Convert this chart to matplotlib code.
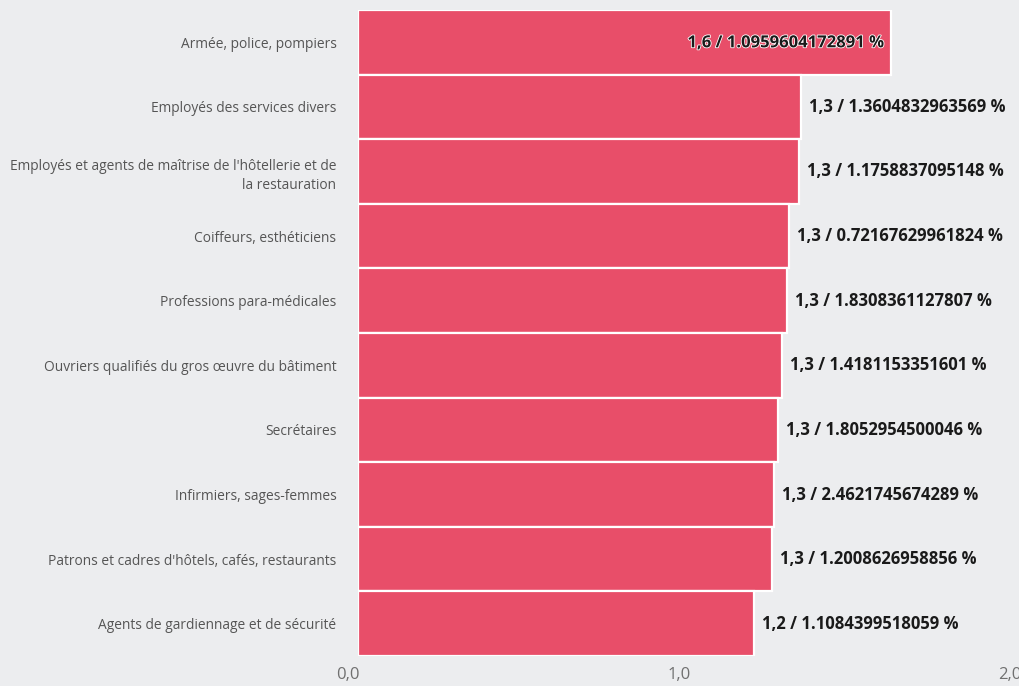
import matplotlib
matplotlib.use("Agg")
import matplotlib.pyplot as plt
import matplotlib.transforms as mtransforms
import matplotlib.patheffects as pe

# data (top to bottom)
categories = [
    "Armée, police, pompiers",
    "Employés des services divers",
    "Employés et agents de maîtrise de l'hôtellerie et de\nla restauration",
    "Coiffeurs, esthéticiens",
    "Professions para-médicales",
    "Ouvriers qualifiés du gros œuvre du bâtiment",
    "Secrétaires",
    "Infirmiers, sages-femmes",
    "Patrons et cadres d'hôtels, cafés, restaurants",
    "Agents de gardiennage et de sécurité",
]
values = [1.610, 1.338, 1.332, 1.302, 1.296, 1.281, 1.269, 1.256, 1.252, 1.196]
shares = [
    "1.0959604172891", "1.3604832963569", "1.1758837095148", "0.72167629961824",
    "1.8308361127807", "1.4181153351601", "1.8052954500046", "2.4621745674289",
    "1.2008626958856", "1.1084399518059",
]
xticks = [0.0, 1.0, 2.0]

bg = "#ecedef"
bar_color = "#e84e69"

fig = plt.figure(figsize=(10.2, 6.86), dpi=100, facecolor=bg)
ax = fig.add_axes([358 / 1020, 1 - 656 / 686, 1 - 358 / 1020, (656 - 10) / 686])
ax.set_facecolor(bg)

pos = list(range(len(categories)))
ax.barh(pos, values, height=1.0, color=bar_color, edgecolor="white", linewidth=1.6)
ax.set_ylim(len(categories) - 0.5, -0.5)
ax.set_xlim(0, 2.0)

ax.set_yticks(pos)
ax.set_yticklabels(categories, fontsize=9.9, color="#555555", family="Open Sans",
                   linespacing=1.4)
ax.tick_params(axis="y", length=0, pad=15.5)

ax.set_xticks(xticks)
ax.set_xticklabels([f"{t:.1f}".replace(".", ",") for t in xticks], fontsize=12,
                   color="#707070", family="Open Sans")
ax.tick_params(axis="x", length=0, pad=8)
shift = mtransforms.ScaledTranslation(-10 / 100, 0, fig.dpi_scale_trans)
for lab in ax.get_xticklabels():
    lab.set_transform(lab.get_transform() + shift)

for s in ax.spines.values():
    s.set_visible(False)

fig.canvas.draw()
renderer = fig.canvas.get_renderer()
off = mtransforms.offset_copy(ax.transData, fig=fig, x=8, y=0, units="dots")
off_in = mtransforms.offset_copy(ax.transData, fig=fig, x=-7, y=0, units="dots")
for i, (v, sh) in enumerate(zip(values, shares)):
    txt = f"{v:.1f}".replace(".", ",") + " / " + sh + " %"
    t = ax.text(v, i, txt, transform=off, ha="left", va="center", fontsize=12,
                fontweight="bold", family="Open Sans", color="#1a1a1a")
    bb = t.get_window_extent(renderer)
    if bb.x1 > fig.bbox.width:
        t.set_transform(off_in)
        t.set_ha("right")
        t.set_path_effects([pe.withStroke(linewidth=1.2, foreground="white")])

fig.savefig("out.png", dpi=100, facecolor=bg)
